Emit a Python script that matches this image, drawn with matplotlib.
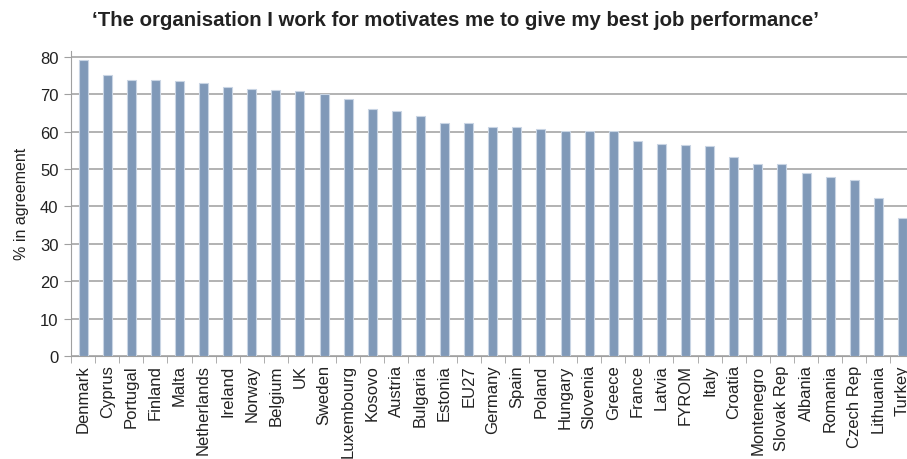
import matplotlib
matplotlib.use("Agg")
import matplotlib.pyplot as plt

countries = ["Denmark", "Cyprus", "Portugal", "Finland", "Malta", "Netherlands", "Ireland",
             "Norway", "Belgium", "UK", "Sweden", "Luxembourg", "Kosovo", "Austria", "Bulgaria",
             "Estonia", "EU27", "Germany", "Spain", "Poland", "Hungary", "Slovenia", "Greece",
             "France", "Latvia", "FYROM", "Italy", "Croatia", "Montenegro", "Slovak Rep",
             "Albania", "Romania", "Czech Rep", "Lithuania", "Turkey"]
values = [79.2, 75.2, 73.7, 73.7, 73.4, 73.1, 72.0,
          71.4, 71.2, 70.8, 70.0, 68.8, 65.9, 65.6, 64.2,
          62.4, 62.2, 61.3, 61.3, 60.8, 60.2, 60.2, 60.2,
          57.5, 56.6, 56.3, 56.1, 53.1, 51.4, 51.4,
          48.9, 47.8, 47.1, 42.1, 36.9]
yticks = [0, 10, 20, 30, 40, 50, 60, 70, 80]
title = "‘The organisation I work for motivates me to give my best job performance’"
ylabel = "% in agreement"

plt.rcParams['font.family'] = ['Liberation Sans', 'DejaVu Sans']

fig = plt.figure(figsize=(9.07, 4.6), dpi=100)
ax = fig.add_axes([71 / 907, 1 - 357 / 460, 843.5 / 907, (357 - 51.7) / 460])

x = list(range(len(countries)))
ax.bar(x, values, width=0.37, color="#8099B8", edgecolor="#C9D5E4", linewidth=0.8, zorder=3)

ax.set_xlim(-0.5, len(countries) - 0.5)
ax.set_ylim(0, 81.6)
ax.set_yticks(yticks)
ax.set_yticklabels([str(t) for t in yticks], fontsize=12, color="#222222")
ax.set_xticks(x)
ax.set_xticklabels(countries, rotation=90, fontsize=12, color="#222222")
ax.tick_params(axis="x", length=0, pad=6)
ax.set_xticks([i - 0.5 for i in range(len(countries) + 1)], minor=True)
ax.tick_params(axis="x", which="minor", length=5, color="#A0A0A0", direction="out")
ax.tick_params(axis="y", length=5, color="#A0A0A0", direction="out", pad=4)

ax.yaxis.grid(True, color="#A5A5A5", linewidth=1.2, zorder=0)
for s in ["top", "right"]:
    ax.spines[s].set_visible(False)
ax.spines["left"].set_color("#A0A0A0")
ax.spines["bottom"].set_color("#A0A0A0")

ax.set_ylabel(ylabel, fontsize=11.5, color="#222222", labelpad=8)
fig.text(455 / 907, 1 - 20 / 460, title, ha="center", va="center", fontsize=14.7,
         fontweight="bold", color="#222222")

fig.savefig("out.png", dpi=100)
